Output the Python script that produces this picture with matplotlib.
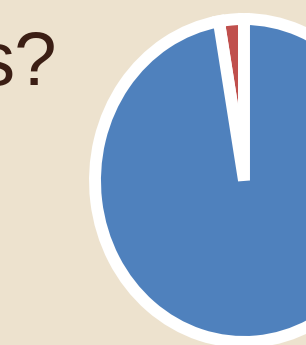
import matplotlib.pyplot as plt

# share of the two answers (red = small slice, blue = rest)
labels = ['Yes', 'No']
shares = [2.7, 97.3]
colors = ['#C0504D', '#4F81BD']

title_tail = 's?'

bg = '#EDE2CE'
W, H = 306, 345

fig = plt.figure(figsize=(W / 100, H / 100), dpi=100, facecolor=bg)

# pie sits partly off the right / bottom edge of the crop
cx, cy = 244, 180.5
rx, ry = 149, 161.5
ax = fig.add_axes([(cx - rx) / W, (H - cy - ry) / H, 2 * rx / W, 2 * ry / H])
ax.pie(shares, colors=colors, startangle=90, counterclock=True, radius=1,
       wedgeprops=dict(edgecolor='white', linewidth=8.6, clip_on=False))
ax.set_aspect('auto')
ax.set_xlim(-1, 1)
ax.set_ylim(-1, 1)
ax.axis('off')

fig.text(57 / W, 1 - 85 / H, title_tail, ha='right', va='baseline',
         fontsize=55, family='Liberation Sans', color='#3B1E14')

fig.savefig('out.png', dpi=100, facecolor=bg)
